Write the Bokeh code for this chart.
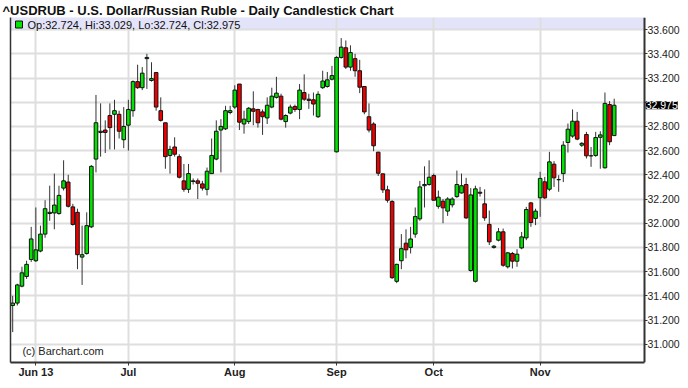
import pandas as pd
from bokeh.plotting import figure
from bokeh.models import ColumnDataSource, FixedTicker, BoxAnnotation, Label, LinearAxis
from bokeh.embed import file_html
from bokeh.resources import INLINE

# ---- data ----
dates = pd.bdate_range("2013-05-27", "2013-11-25")

opens = [31.32, 31.34, 31.48, 31.56, 31.70, 31.69, 31.77, 31.91, 32.08, 32.085,
         32.08, 32.29, 32.34, 32.135, 32.09, 31.72, 31.75, 31.97, 32.53, 32.75,
         32.77, 32.89, 32.90, 32.90, 32.69, 32.81, 32.93, 33.17, 33.12, 33.36,
         33.18, 33.245, 32.93, 32.83, 32.56, 32.63, 32.55, 32.35, 32.28, 32.345,
         32.35, 32.325, 32.28, 32.41, 32.53, 32.77, 32.78, 32.915, 32.96, 33.15,
         32.82, 32.84, 32.945, 32.94, 32.92, 32.87, 32.96, 33.04, 33.05, 32.84,
         32.91, 32.965, 32.94, 33.08, 33.025, 33.02, 32.88, 33.12, 33.13, 33.19,
         32.59, 33.37, 33.45, 33.29, 33.36, 33.26, 33.13, 32.88, 32.82, 32.587,
         32.408, 32.276, 32.18, 31.52, 31.69, 31.835, 31.80, 31.91, 32.036, 32.31,
         32.32, 32.394, 32.14, 32.182, 32.10, 32.152, 32.22, 32.25, 32.32, 31.609,
         31.52, 32.256, 32.16, 31.99, 31.80, 31.86, 31.929, 31.64, 31.75, 31.686,
         31.796, 31.879, 32.168, 32.04, 32.21, 32.342, 32.281, 32.488, 32.36, 32.41,
         32.667, 32.72, 32.843, 32.645, 32.733, 32.557, 32.56, 32.71, 32.458, 32.981,
         32.724]
highs = [31.40, 31.50, 31.64, 31.69, 31.97, 32.13, 31.98, 32.19, 32.31, 32.41,
         32.31, 32.52, 32.40, 32.16, 32.12, 31.98, 32.09, 32.48, 33.06, 32.99,
         32.85, 32.99, 33.02, 32.93, 32.96, 33.02, 33.18, 33.31, 33.29, 33.40,
         33.33, 33.25, 33.04, 32.83, 32.64, 32.71, 32.57, 32.49, 32.49, 32.37,
         32.37, 32.35, 32.46, 32.70, 32.85, 32.86, 32.97, 32.97, 33.14, 33.15,
         32.93, 32.96, 33.09, 32.945, 32.94, 33.04, 33.12, 33.21, 33.07, 32.90,
         32.98, 32.98, 33.15, 33.23, 33.07, 33.08, 33.09, 33.26, 33.25, 33.30,
         33.38, 33.53, 33.51, 33.47, 33.40, 33.35, 33.13, 32.99, 32.835, 32.59,
         32.41, 32.31, 32.19, 31.665, 31.91, 31.95, 31.97, 32.13, 32.35, 32.47,
         32.52, 32.41, 32.27, 32.20, 32.215, 32.215, 32.435, 32.41, 32.375, 32.29,
         32.31, 32.30, 32.28, 32.105, 31.82, 31.96, 31.956, 31.763, 31.763, 31.785,
         31.928, 32.135, 32.176, 32.12, 32.425, 32.383, 32.59, 32.513, 32.397, 32.678,
         32.824, 32.94, 32.92, 32.67, 32.755, 32.63, 32.755, 32.76, 33.08, 33.009,
         33.029]
lows = [31.10, 31.32, 31.47, 31.54, 31.68, 31.68, 31.76, 31.88, 32.02, 31.95,
        32.07, 32.27, 32.13, 31.98, 31.62, 31.49, 31.74, 31.96, 32.42, 32.55,
        32.58, 32.61, 32.61, 32.70, 32.62, 32.60, 32.88, 33.11, 33.10, 33.11,
        33.17, 32.93, 32.84, 32.45, 32.41, 32.55, 32.37, 32.26, 32.25, 32.32,
        32.20, 32.27, 32.23, 32.41, 32.52, 32.42, 32.77, 32.90, 32.945, 32.77,
        32.74, 32.82, 32.81, 32.79, 32.73, 32.82, 32.95, 33.03, 32.85, 32.79,
        32.90, 32.92, 32.86, 33.01, 32.945, 32.89, 32.87, 33.11, 33.12, 33.18,
        32.585, 33.36, 33.275, 33.26, 33.21, 33.075, 32.90, 32.75, 32.595, 32.39,
        32.25, 32.17, 31.54, 31.505, 31.62, 31.71, 31.75, 31.88, 32.02, 32.13,
        32.31, 32.19, 32.12, 32.00, 32.06, 32.13, 32.21, 32.245, 32.036, 31.60,
        31.51, 32.22, 32.02, 31.82, 31.79, 31.85, 31.64, 31.626, 31.626, 31.64,
        31.785, 31.86, 31.97, 31.984, 32.053, 32.199, 32.265, 32.30, 32.26, 32.34,
        32.584, 32.706, 32.686, 32.63, 32.535, 32.466, 32.549, 32.45, 32.452, 32.645,
        32.724]
closes = [31.34, 31.49, 31.59, 31.66, 31.87, 31.78, 31.91, 32.12, 32.09, 32.15,
          32.23, 32.35, 32.14, 31.99, 31.74, 31.74, 31.98, 32.47, 32.83, 32.76,
          32.75, 32.79, 32.93, 32.76, 32.80, 32.94, 33.17, 33.12, 33.24, 33.37,
          33.195, 32.96, 32.85, 32.55, 32.61, 32.57, 32.38, 32.28, 32.41, 32.35,
          32.33, 32.29, 32.43, 32.56, 32.76, 32.80, 32.93, 32.93, 33.10, 32.835,
          32.86, 32.95, 32.925, 32.83, 32.88, 32.975, 33.05, 33.075, 32.86, 32.89,
          32.96, 32.94, 33.10, 33.025, 33.015, 32.985, 33.065, 33.175, 33.185, 33.22,
          33.37, 33.455, 33.29, 33.41, 33.26, 33.124, 32.92, 32.77, 32.64, 32.413,
          32.276, 32.19, 31.55, 31.66, 31.79, 31.78, 31.87, 32.055, 32.30, 32.32,
          32.38, 32.19, 32.215, 32.127, 32.20, 32.20, 32.32, 32.31, 32.044, 32.234,
          32.284, 32.248, 32.044, 31.846, 31.81, 31.929, 31.653, 31.755, 31.686, 31.744,
          31.887, 32.113, 32.006, 32.10, 32.37, 32.21, 32.507, 32.375, 32.36, 32.645,
          32.777, 32.843, 32.695, 32.66, 32.557, 32.557, 32.708, 32.73, 32.99, 32.673,
          32.975]

month_labels = ["Jun 13", "Jul", "Aug", "Sep", "Oct", "Nov"]
y_ticks = [31.0, 31.2, 31.4, 31.6, 31.8, 32.0, 32.2, 32.4, 32.6, 32.8,
           33.0, 33.2, 33.4, 33.6]

title_text = "^USDRUB - U.S. Dollar/Russian Ruble - Daily Candlestick Chart"
FONT = "Liberation Sans"
GREEN = "#00e400"
RED = "#ee0000"
AX = "#333333"
X_START = -0.475     # left edge of the chart frame
X_END = 136.55       # right edge of the price area (where the price axis sits)
X_VIEW = 144.33      # right edge of the figure (room for the price labels)

# ---- derived ----
idx = list(range(len(dates)))
month_ticks = [i for i in range(1, len(dates)) if dates[i].month != dates[i - 1].month]
source = ColumnDataSource(dict(
    x=idx,
    high=highs,
    low=lows,
    top=[max(o, c) for o, c in zip(opens, closes)],
    bottom=[min(o, c) for o, c in zip(opens, closes)],
    color=[GREEN if c >= o else RED for o, c in zip(opens, closes)],
))

p = figure(width=680, height=380, x_range=(X_START, X_VIEW), y_range=(30.849, 33.70),
           y_axis_location="right", output_backend="svg", toolbar_location=None,
           title=title_text, min_border_left=10, min_border_right=0,
           min_border_top=0, min_border_bottom=0)
p.background_fill_color = "white"
p.border_fill_color = "white"
p.outline_line_color = None

p.title.text_font = FONT
p.title.text_font_size = "13px"
p.title.text_font_style = "bold"
p.title.text_color = "#111111"
p.title.offset = -8
p.title.standoff = 0

# band holding the legend row
p.add_layout(BoxAnnotation(bottom=33.6, right=X_END, fill_color="#e3e3fa", fill_alpha=1.0,
                           line_color="#b8b8c8", line_width=1, level="image"))

# grids
p.xgrid.ticker = FixedTicker(ticks=month_ticks)
p.ygrid.ticker = FixedTicker(ticks=y_ticks)
p.grid.grid_line_color = "#dedede"
p.grid.grid_line_width = 2

# blank the area to the right of the price axis (gridlines stop at the axis)
p.add_layout(BoxAnnotation(left=X_END, fill_color="white", fill_alpha=1.0,
                           line_color=None, level="underlay"))

# x axis
p.xaxis.bounds = (X_START, X_END)
p.xaxis.ticker = FixedTicker(ticks=month_ticks)
p.xaxis.major_label_overrides = {t: lab for t, lab in zip(month_ticks, month_labels)}
p.xaxis.major_label_text_font = FONT
p.xaxis.major_label_text_font_size = "11px"
p.xaxis.major_label_text_font_style = "bold"
p.xaxis.major_label_text_color = "#222222"
p.xaxis.major_label_standoff = 0
p.xaxis.major_tick_out = 3
p.xaxis.major_tick_in = 0
p.xaxis.minor_tick_line_color = None
p.xaxis.axis_line_color = AX
p.xaxis.axis_line_width = 2
p.xaxis.major_tick_line_color = AX

# y (price) axis drawn at the right edge of the price area
p.yaxis.fixed_location = X_END
p.yaxis.ticker = FixedTicker(ticks=y_ticks)
p.yaxis.major_label_overrides = {t: ("" if abs(t - 33.0) < 1e-9 else f"{t:.3f}") for t in y_ticks}
p.yaxis.major_label_text_font = FONT
p.yaxis.major_label_text_font_size = "10.5px"
p.yaxis.major_label_text_color = "#222222"
p.yaxis.major_label_standoff = 0
p.yaxis.major_tick_out = 3
p.yaxis.major_tick_in = 0
p.yaxis.minor_tick_line_color = None
p.yaxis.axis_line_color = AX
p.yaxis.axis_line_width = 2
p.yaxis.major_tick_line_color = AX

# left frame edge: an axis with a line only
left_edge = LinearAxis(ticker=FixedTicker(ticks=[]), major_label_text_font_size="0px",
                       major_tick_out=0, major_tick_in=0, minor_tick_out=0, minor_tick_in=0,
                       axis_line_color=AX, axis_line_width=1.5)
p.add_layout(left_edge, "left")

# candles
p.segment(x0="x", y0="low", x1="x", y1="high", source=source,
          line_color="#333333", line_width=1)
p.vbar(x="x", width=0.78, top="top", bottom="bottom", source=source,
       fill_color="color", line_color="#111111", line_width=1)

# legend row
leg_text = f"Op:{opens[-1]:.3f}, Hi:{highs[-1]:.3f}, Lo:{lows[-1]:.3f}, Cl:{closes[-1]:.3f}"
p.scatter(x=[1.36], y=[33.642], marker="square", size=7,
          fill_color=GREEN if closes[-1] >= opens[-1] else RED, line_color="#111111")
p.add_layout(Label(x=3.2, y=33.642, text=leg_text, text_font=FONT,
                   text_font_size="11px", text_color="#111111",
                   text_baseline="middle"))

# copyright
p.add_layout(Label(x=2.1, y=30.948, text="(c) Barchart.com", text_font=FONT,
                   text_font_size="11px", text_color="#222222",
                   text_baseline="middle"))

# last price box on the price axis
p.add_layout(Label(x=X_END + 0.25, y=closes[-1], text=f"{closes[-1]:.3f}", text_font=FONT,
                   text_font_size="10.5px", text_color="white",
                   background_fill_color="black", background_fill_alpha=1.0,
                   text_baseline="middle"))

open("out.html", "w").write(file_html(p, INLINE))
